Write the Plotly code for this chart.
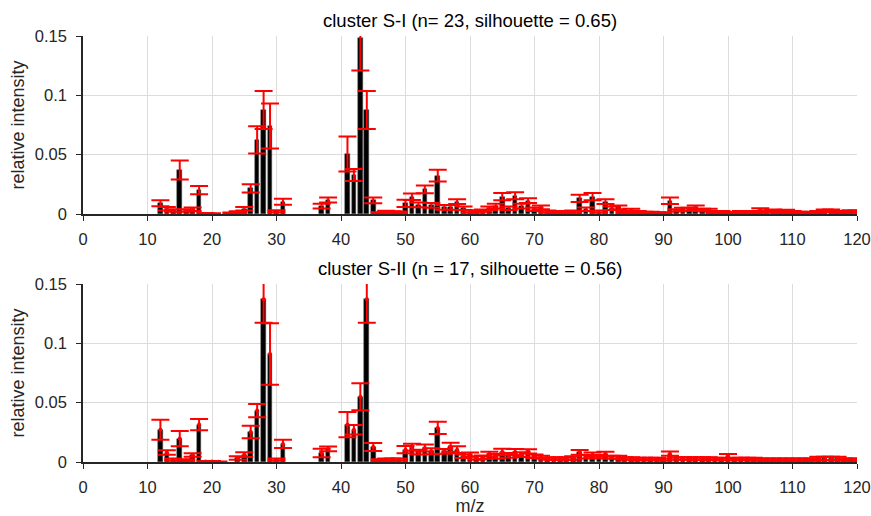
import plotly.graph_objects as go

# m/z channels 1..120
mz = list(range(1, 121))

# cluster S-I: mean relative intensity and standard deviation per m/z
s1_mean = [
    0, 0, 0, 0, 0, 0, 0, 0, 0, 0,
    0, 0.009, 0.0045, 0.003, 0.037, 0.003, 0.004, 0.0202, 0.0005, 0.0004,
    0, 0, 0.0008, 0.0015, 0.0045, 0.0216, 0.0624, 0.0876, 0.0742, 0.0022,
    0.0104, 0, 0, 0, 0, 0, 0.0067, 0.0118, 0, 0,
    0.0506, 0.0329, 0.148, 0.0876, 0.0115, 0.001, 0.002, 0.0017, 0.0015, 0.009,
    0.0146, 0.0076, 0.0208, 0.0073, 0.0323, 0.0056, 0.0056, 0.0104, 0.0048, 0.002,
    0.002, 0.0028, 0.0048, 0.0067, 0.0146, 0.0048, 0.0154, 0.0067, 0.0112, 0.004,
    0.0056, 0.002, 0.0017, 0.0017, 0.0017, 0.002, 0.0132, 0.004, 0.0146, 0.002,
    0.0104, 0.0048, 0.0056, 0.0017, 0.0034, 0.0017, 0.0012, 0.0012, 0.001, 0.001,
    0.0112, 0.0031, 0.004, 0.004, 0.0056, 0.0034, 0.0034, 0.0017, 0.0017, 0.001,
    0.001, 0.0017, 0.0017, 0.0017, 0.0034, 0.002, 0.0028, 0.0017, 0.0025, 0.0017,
    0.0012, 0.0012, 0.001, 0.0017, 0.0028, 0.0028, 0.0017, 0.0017, 0.0022, 0.002,
]
s1_std = [
    0, 0, 0, 0, 0, 0, 0, 0, 0, 0,
    0, 0.0025, 0.0015, 0.001, 0.008, 0.001, 0.0015, 0.0035, 0.0003, 0.0003,
    0, 0, 0.0004, 0.0008, 0.0015, 0.0035, 0.0115, 0.016, 0.019, 0.001,
    0.0025, 0, 0, 0, 0, 0, 0.002, 0.0022, 0, 0,
    0.0147, 0.005, 0.027, 0.016, 0.0025, 0.0005, 0.0008, 0.0007, 0.0006, 0.003,
    0.0027, 0.002, 0.0033, 0.002, 0.005, 0.002, 0.002, 0.002, 0.0015, 0.001,
    0.001, 0.001, 0.0015, 0.002, 0.003, 0.0015, 0.003, 0.002, 0.002, 0.0015,
    0.0015, 0.001, 0.0008, 0.0008, 0.0008, 0.001, 0.003, 0.0015, 0.003, 0.001,
    0.002, 0.0015, 0.0015, 0.0008, 0.001, 0.0008, 0.0006, 0.0006, 0.0005, 0.0005,
    0.0028, 0.001, 0.0012, 0.0012, 0.0015, 0.001, 0.001, 0.0008, 0.0008, 0.0005,
    0.0005, 0.0008, 0.0008, 0.0008, 0.0015, 0.001, 0.001, 0.0008, 0.001, 0.0008,
    0.0006, 0.0006, 0.0005, 0.0008, 0.001, 0.001, 0.0008, 0.0008, 0.001, 0.001,
]

# cluster S-II
s2_mean = [
    0, 0, 0, 0, 0, 0, 0, 0, 0, 0,
    0, 0.0272, 0.008, 0.002, 0.0197, 0.0015, 0.0059, 0.0315, 0.0005, 0.0005,
    0.0003, 0, 0, 0.0034, 0.0062, 0.0253, 0.0433, 0.1371, 0.091, 0.002,
    0.0152, 0, 0, 0, 0, 0, 0.0076, 0.011, 0, 0,
    0.0315, 0.0272, 0.055, 0.1371, 0.0126, 0.0015, 0.002, 0.002, 0.002, 0.0104,
    0.0124, 0.0084, 0.0118, 0.009, 0.0287, 0.009, 0.0124, 0.0104, 0.0048, 0.0062,
    0.0034, 0.004, 0.0067, 0.0048, 0.0084, 0.0056, 0.0084, 0.0062, 0.009, 0.0048,
    0.004, 0.0028, 0.003, 0.0028, 0.003, 0.0034, 0.0082, 0.0045, 0.0062, 0.0045,
    0.0067, 0.004, 0.004, 0.003, 0.003, 0.0025, 0.0025, 0.0025, 0.0025, 0.002,
    0.007, 0.003, 0.003, 0.003, 0.003, 0.003, 0.003, 0.0025, 0.0025, 0.005,
    0.0025, 0.0025, 0.0025, 0.0025, 0.002, 0.002, 0.002, 0.002, 0.002, 0.002,
    0.002, 0.002, 0.002, 0.003, 0.003, 0.003, 0.003, 0.002, 0.002, 0.002,
]
s2_std = [
    0, 0, 0, 0, 0, 0, 0, 0, 0, 0,
    0, 0.0085, 0.0018, 0.001, 0.0065, 0.0008, 0.0015, 0.0047, 0.0003, 0.0003,
    0.0002, 0, 0, 0.0015, 0.002, 0.0053, 0.0055, 0.0197, 0.026, 0.001,
    0.0035, 0, 0, 0, 0, 0, 0.0035, 0.002, 0, 0,
    0.0107, 0.004, 0.0114, 0.0197, 0.0034, 0.0008, 0.001, 0.001, 0.001, 0.003,
    0.003, 0.002, 0.003, 0.0025, 0.0052, 0.002, 0.0038, 0.0028, 0.0015, 0.0018,
    0.0015, 0.0015, 0.002, 0.002, 0.0028, 0.002, 0.0025, 0.002, 0.0018, 0.0015,
    0.0012, 0.001, 0.001, 0.001, 0.001, 0.0015, 0.002, 0.0015, 0.0018, 0.0015,
    0.002, 0.0012, 0.0012, 0.001, 0.001, 0.001, 0.001, 0.001, 0.001, 0.001,
    0.0018, 0.001, 0.001, 0.001, 0.001, 0.001, 0.001, 0.001, 0.001, 0.0018,
    0.001, 0.001, 0.001, 0.001, 0.001, 0.001, 0.001, 0.001, 0.001, 0.001,
    0.001, 0.001, 0.001, 0.0015, 0.0015, 0.0015, 0.0015, 0.001, 0.001, 0.001,
]

titles = ["cluster S-I (n= 23, silhouette = 0.65)",
          "cluster S-II (n = 17, silhouette = 0.56)"]
x_ticks = list(range(0, 121, 10))
y_ticks = [0, 0.05, 0.1, 0.15]
y_ticktext = ["0", "0.05", "0.1", "0.15"]

FONT = "Liberation Sans, Arial, sans-serif"
AX_COLOR = "#262626"
TICK_SIZE = 16.5
LABEL_SIZE = 18
TITLE_SIZE = 18.5

fig = go.Figure()

panels = [(s1_mean, s1_std, "x", "y", False), (s2_mean, s2_std, "x2", "y2", True)]
for mean, std, xa, ya, dots in panels:
    keep = [i for i, v in enumerate(mean) if v > 0]
    xs = [mz[i] for i in keep]
    ys = [mean[i] for i in keep]
    es = [std[i] for i in keep]
    fig.add_trace(go.Bar(
        x=xs, y=ys, width=0.72, xaxis=xa, yaxis=ya,
        marker=dict(color="black", line=dict(color="#555555", width=0.5)),
        showlegend=False, hoverinfo="x+y",
    ))
    fig.add_trace(go.Scatter(
        x=xs, y=ys, xaxis=xa, yaxis=ya, mode="markers",
        marker=dict(color="red", size=4 if dots else 1,
                    opacity=1 if dots else 0),
        error_y=dict(type="data", array=es, color="red",
                     thickness=2, width=9, visible=True),
        showlegend=False, hoverinfo="skip",
    ))

# plot areas: 83..857 px wide, panels 178 px tall
top_dom = [1 - 178 / 426, 1.0]
bot_dom = [0.0, 178 / 426]

xcommon = dict(
    range=[0, 120], tickvals=x_ticks, ticks="outside", ticklen=5,
    tickwidth=1, tickcolor=AX_COLOR, showline=True, linecolor=AX_COLOR,
    linewidth=1.5, showgrid=True, gridcolor="#dcdcdc", gridwidth=1,
    zeroline=False, automargin=False, ticklabelstandoff=4,
    tickfont=dict(family=FONT, size=TICK_SIZE, color=AX_COLOR),
)
ycommon = dict(
    range=[0, 0.15], tickvals=y_ticks, ticktext=y_ticktext, ticks="outside",
    ticklen=5, tickwidth=1, tickcolor=AX_COLOR, showline=True,
    linecolor=AX_COLOR, linewidth=1.5, showgrid=True, gridcolor="#dcdcdc",
    gridwidth=1, zeroline=False, automargin=False, ticklabelstandoff=6,
    tickfont=dict(family=FONT, size=TICK_SIZE, color=AX_COLOR),
    title=dict(text="relative intensity", standoff=6,
               font=dict(family=FONT, size=LABEL_SIZE, color=AX_COLOR)),
)

fig.update_layout(
    width=871, height=516,
    margin=dict(l=83, r=14, t=36, b=54),
    plot_bgcolor="white", paper_bgcolor="white",
    bargap=0, barmode="overlay",
    xaxis=dict(domain=[0, 1], anchor="y", **xcommon),
    yaxis=dict(domain=top_dom, anchor="x", **ycommon),
    xaxis2=dict(domain=[0, 1], anchor="y2",
                title=dict(text="m/z", standoff=2,
                           font=dict(family=FONT, size=LABEL_SIZE, color=AX_COLOR)),
                **xcommon),
    yaxis2=dict(domain=bot_dom, anchor="x2", **ycommon),
    annotations=[
        dict(text=titles[0], x=0.5, y=top_dom[1], xref="paper", yref="paper",
             xanchor="center", yanchor="bottom", yshift=3, showarrow=False,
             font=dict(family=FONT, size=TITLE_SIZE, color="black")),
        dict(text=titles[1], x=0.5, y=bot_dom[1], xref="paper", yref="paper",
             xanchor="center", yanchor="bottom", yshift=3, showarrow=False,
             font=dict(family=FONT, size=TITLE_SIZE, color="black")),
    ],
)

fig.write_html("out.html")
